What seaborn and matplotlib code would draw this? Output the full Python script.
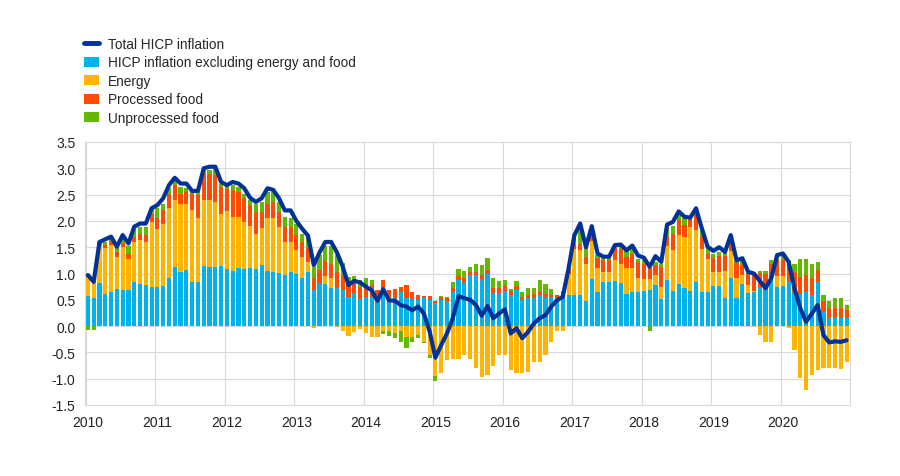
import numpy as np
import matplotlib
matplotlib.use("Agg")
import matplotlib.pyplot as plt
import seaborn as sns
from matplotlib.patches import Patch
from matplotlib.lines import Line2D

# ---- data (contributions, percentage points; monthly 2010-01 .. 2020-12) ----
years = list(range(2010, 2021))
year_labels = [str(y) for y in years]

core = [
    0.57, 0.53, 0.81, 0.61, 0.65, 0.70, 0.68, 0.68, 0.83, 0.80, 0.79, 0.74,
    0.75, 0.76, 0.91, 1.13, 1.03, 1.06, 0.84, 0.84, 1.14, 1.12, 1.12, 1.14,
    1.08, 1.05, 1.11, 1.08, 1.10, 1.08, 1.16, 1.05, 1.03, 1.01, 0.97, 1.03,
    1.00, 0.91, 1.03, 0.68, 0.81, 0.80, 0.73, 0.73, 0.68, 0.56, 0.62, 0.52,
    0.56, 0.56, 0.53, 0.65, 0.53, 0.54, 0.64, 0.53, 0.51, 0.49, 0.53, 0.49,
    0.43, 0.50, 0.45, 0.64, 0.87, 0.81, 0.97, 0.97, 0.89, 1.00, 0.62, 0.62,
    0.67, 0.60, 0.68, 0.49, 0.54, 0.54, 0.60, 0.56, 0.56, 0.54, 0.59, 0.60,
    0.60, 0.60, 0.48, 0.89, 0.64, 0.83, 0.84, 0.86, 0.81, 0.61, 0.64, 0.64,
    0.67, 0.68, 0.78, 0.51, 0.87, 0.67, 0.80, 0.73, 0.67, 0.83, 0.65, 0.65,
    0.76, 0.76, 0.54, 0.91, 0.54, 0.80, 0.62, 0.65, 0.72, 0.70, 0.91, 0.75,
    0.76, 0.86, 0.62, 0.61, 0.64, 0.59, 0.83, 0.26, 0.15, 0.15, 0.16, 0.15,
]
energy = [
    0.36, 0.33, 0.73, 0.87, 0.89, 0.62, 0.83, 0.60, 0.76, 0.83, 0.81, 1.24,
    1.10, 1.19, 1.33, 1.27, 1.30, 1.27, 1.36, 1.21, 1.26, 1.28, 1.24, 1.00,
    1.10, 1.03, 0.96, 0.90, 0.81, 0.68, 0.70, 1.00, 1.02, 0.88, 0.63, 0.57,
    0.45, 0.41, 0.19, -0.04, 0.00, 0.15, 0.18, -0.02, -0.10, -0.18, -0.12, -0.05,
    -0.14, -0.20, -0.20, -0.10, -0.10, -0.13, -0.10, -0.20, -0.20, -0.17, -0.30, -0.55,
    -0.95, -0.90, -0.65, -0.62, -0.62, -0.55, -0.62, -0.79, -0.96, -0.93, -0.75, -0.55,
    -0.55, -0.84, -0.90, -0.90, -0.87, -0.68, -0.68, -0.55, -0.30, -0.10, -0.10, 0.40,
    0.87, 0.85, 0.71, 0.72, 0.46, 0.20, 0.19, 0.40, 0.38, 0.49, 0.46, 0.28,
    0.22, 0.22, 0.20, 0.24, 0.65, 0.77, 0.93, 0.97, 1.22, 0.99, 0.82, 0.63,
    0.27, 0.27, 0.50, 0.51, 0.37, 0.17, 0.16, 0.02, -0.17, -0.31, -0.31, 0.20,
    0.20, -0.04, -0.46, -0.98, -1.22, -0.93, -0.84, -0.79, -0.80, -0.80, -0.82, -0.68,
]
processed_food = [
    0.07, 0.03, 0.05, 0.07, 0.08, 0.09, 0.07, 0.10, 0.10, 0.13, 0.13, 0.16,
    0.20, 0.25, 0.28, 0.28, 0.19, 0.22, 0.32, 0.44, 0.50, 0.50, 0.52, 0.51,
    0.43, 0.51, 0.48, 0.45, 0.39, 0.41, 0.31, 0.28, 0.31, 0.28, 0.29, 0.29,
    0.28, 0.28, 0.27, 0.23, 0.25, 0.28, 0.28, 0.30, 0.27, 0.23, 0.24, 0.22,
    0.19, 0.22, 0.16, 0.22, 0.16, 0.16, 0.10, 0.25, 0.13, 0.10, 0.05, 0.08,
    0.05, 0.05, 0.08, 0.09, 0.08, 0.10, 0.06, 0.06, 0.08, 0.06, 0.10, 0.10,
    0.10, 0.06, 0.08, 0.06, 0.06, 0.07, 0.05, 0.05, 0.04, 0.05, 0.05, 0.06,
    0.10, 0.12, 0.13, 0.10, 0.20, 0.22, 0.22, 0.22, 0.28, 0.22, 0.28, 0.30,
    0.30, 0.20, 0.18, 0.38, 0.19, 0.32, 0.29, 0.23, 0.13, 0.29, 0.25, 0.10,
    0.27, 0.30, 0.30, 0.14, 0.29, 0.19, 0.22, 0.30, 0.29, 0.30, 0.28, 0.30,
    0.30, 0.30, 0.41, 0.33, 0.34, 0.33, 0.23, 0.22, 0.20, 0.19, 0.18, 0.16,
]
unprocessed_food = [
    -0.07, -0.07, 0.00, 0.05, 0.05, 0.08, 0.12, 0.15, 0.16, 0.13, 0.16, 0.10,
    0.20, 0.13, 0.10, 0.08, 0.13, 0.08, 0.05, 0.06, 0.07, 0.07, 0.10, 0.06,
    0.06, 0.09, 0.10, 0.09, 0.10, 0.16, 0.19, 0.22, 0.19, 0.19, 0.19, 0.16,
    0.22, 0.15, 0.20, 0.22, 0.30, 0.30, 0.33, 0.33, 0.25, 0.14, 0.10, 0.14,
    0.16, 0.10, 0.00, -0.05, -0.08, -0.10, -0.20, -0.21, -0.10, -0.05, -0.02, -0.06,
    -0.10, 0.03, 0.03, 0.10, 0.14, 0.13, 0.10, 0.16, 0.19, 0.23, 0.19, 0.14,
    0.11, 0.05, 0.09, 0.10, 0.13, 0.11, 0.22, 0.19, 0.10, 0.00, 0.03, 0.05,
    0.10, 0.30, 0.19, 0.19, 0.05, 0.05, 0.05, 0.05, 0.05, 0.10, 0.13, 0.05,
    0.07, -0.09, 0.05, 0.05, 0.20, 0.15, 0.10, 0.13, 0.06, 0.12, 0.10, 0.10,
    0.07, 0.07, 0.06, 0.10, 0.03, 0.10, 0.03, 0.04, 0.03, 0.04, 0.06, 0.08,
    0.09, 0.10, 0.16, 0.34, 0.30, 0.27, 0.15, 0.11, 0.13, 0.19, 0.19, 0.10,
]
total_hicp = [
    0.97, 0.84, 1.60, 1.65, 1.70, 1.51, 1.73, 1.57, 1.89, 1.95, 1.95, 2.24,
    2.30, 2.43, 2.68, 2.82, 2.71, 2.71, 2.57, 2.57, 3.00, 3.03, 3.03, 2.74,
    2.68, 2.74, 2.71, 2.62, 2.44, 2.36, 2.43, 2.62, 2.59, 2.43, 2.20, 2.20,
    2.00, 1.85, 1.72, 1.16, 1.40, 1.60, 1.60, 1.40, 1.13, 0.78, 0.86, 0.83,
    0.75, 0.68, 0.48, 0.70, 0.49, 0.48, 0.40, 0.37, 0.30, 0.37, 0.24, -0.10,
    -0.60, -0.36, -0.14, 0.15, 0.57, 0.53, 0.50, 0.40, 0.20, 0.38, 0.15, 0.24,
    0.32, -0.14, -0.04, -0.23, -0.11, 0.05, 0.15, 0.21, 0.37, 0.49, 0.56, 1.10,
    1.73, 1.95, 1.50, 1.90, 1.38, 1.32, 1.32, 1.54, 1.55, 1.44, 1.53, 1.34,
    1.30, 1.13, 1.33, 1.22, 1.93, 1.98, 2.18, 2.08, 2.06, 2.24, 1.86, 1.51,
    1.43, 1.50, 1.41, 1.73, 1.25, 1.29, 1.03, 1.00, 0.86, 0.72, 0.91, 1.35,
    1.38, 1.22, 0.72, 0.34, 0.08, 0.24, 0.40, -0.17, -0.31, -0.29, -0.30, -0.27,
]

labels = ["Total HICP inflation", "HICP inflation excluding energy and food",
          "Energy", "Processed food", "Unprocessed food"]
colors = ["#003299", "#00B1EA", "#FFB400", "#FF4B00", "#65B800"]

# ---- style ----
sns.set_theme(style="white")
plt.rcParams["font.family"] = ["Liberation Sans", "DejaVu Sans"]

W, H = 900, 477
fig = plt.figure(figsize=(W / 100, H / 100), dpi=100)
fig.patch.set_facecolor("white")
left, right, top, bottom = 85, 849.5, 143, 406
ax = fig.add_axes([left / W, 1 - bottom / H, (right - left) / W, (bottom - top) / H])
ax.set_facecolor("white")

n = len(total_hicp)
x = np.arange(n)
pos_b = np.zeros(n)
neg_b = np.zeros(n)
for vals, col in zip([core, energy, processed_food, unprocessed_food], colors[1:]):
    v = np.asarray(vals, dtype=float)
    b = np.where(v >= 0, pos_b, neg_b)
    ax.bar(x, v, bottom=b, width=0.72, color=col, linewidth=0, zorder=2)
    pos_b += np.where(v >= 0, v, 0)
    neg_b += np.where(v < 0, v, 0)

sns.lineplot(x=x, y=np.asarray(total_hicp), ax=ax, color=colors[0], linewidth=3.0,
             solid_joinstyle="round", solid_capstyle="round", zorder=3, legend=False)

ax.set_xlim(-0.5, n - 0.5)
ax.set_ylim(-1.5, 3.5)
yt = np.arange(-1.5, 3.51, 0.5)
ax.set_yticks(yt)
ax.set_yticklabels([f"{t:.1f}" for t in yt])
ax.set_xticks(np.arange(0, n, 12))
ax.set_xticklabels(year_labels)
ax.set_xticks(np.arange(0, n, 12) - 0.4, minor=True)
ax.tick_params(axis="both", which="both", length=0, labelsize=10, colors="#222222")
ax.tick_params(axis="y", pad=7)
ax.tick_params(axis="x", pad=7)
ax.grid(axis="y", which="major", color="#d9d9d9", linewidth=0.8, zorder=0)
ax.grid(axis="x", which="minor", color="#d9d9d9", linewidth=0.8, zorder=0)
ax.grid(axis="x", which="major", visible=False)
ax.set_axisbelow(True)
for s in ax.spines.values():
    s.set_color("#d9d9d9")
    s.set_linewidth(0.8)
ax.set_xlabel("")
ax.set_ylabel("")

handles = [Line2D([0], [0], color=colors[0], linewidth=3.5)] + \
          [Patch(facecolor=c, edgecolor="none") for c in colors[1:]]
fig.legend(handles, labels, loc="upper left", bbox_to_anchor=(84 / W, 1 - 38 / H),
           frameon=False, fontsize=9.8, handlelength=1.1, handleheight=0.8,
           handletextpad=0.65, labelspacing=0.33, borderpad=0, borderaxespad=0)

fig.savefig("out.png", dpi=100, facecolor="white")
